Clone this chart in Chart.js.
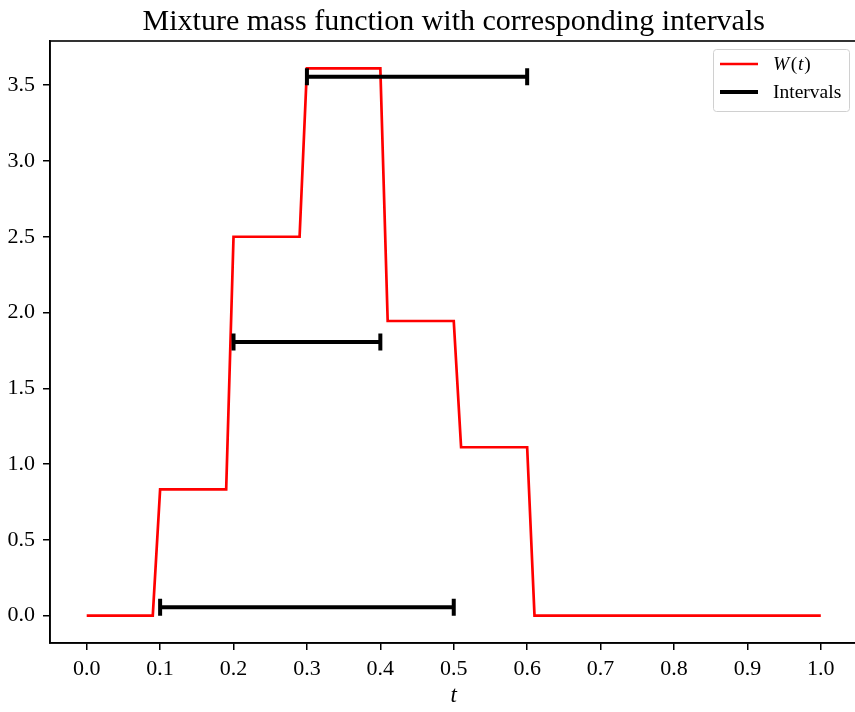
<!DOCTYPE html>
<html>
<head>
<meta charset="utf-8">
<script src="https://cdn.jsdelivr.net/npm/chart.js@4/dist/chart.umd.min.js"></script>
<style>
  html, body { margin: 0; padding: 0; background: #fff; overflow: hidden; width: 855px; height: 712px; }
  #wrap { width: 870px; height: 712px; }
</style>
</head>
<body>
<div id="wrap"><canvas id="c" width="870" height="712"></canvas></div>
<script>
// ---- data ----
const chartTitle = 'Mixture mass function with corresponding intervals';
const tValues = [0.0, 0.09, 0.10, 0.19, 0.20, 0.29, 0.30, 0.40, 0.41, 0.50, 0.51, 0.60, 0.61, 1.0];
const wValues = [0, 0, 0.833, 0.833, 2.5, 2.5, 3.611, 3.611, 1.944, 1.944, 1.111, 1.111, 0, 0];
const intervalStarts = [0.1, 0.2, 0.3];
const intervalEnds = [0.5, 0.4, 0.6];
const intervalHeights = [0.055, 1.805, 3.555];
const xTickValues = [0, 0.1, 0.2, 0.3, 0.4, 0.5, 0.6, 0.7, 0.8, 0.9, 1.0];
const xTickLabels = ['0.0', '0.1', '0.2', '0.3', '0.4', '0.5', '0.6', '0.7', '0.8', '0.9', '1.0'];
const yTickValues = [0, 0.5, 1.0, 1.5, 2.0, 2.5, 3.0, 3.5];
const yTickLabels = ['0.0', '0.5', '1.0', '1.5', '2.0', '2.5', '3.0', '3.5'];
const seriesLabels = ['W(t)', 'Intervals'];

const SERIF = '"Liberation Serif", "DejaVu Serif", serif';

const datasets = [];
datasets.push({
  label: seriesLabels[0],
  data: tValues.map((t, i) => ({ x: t, y: wValues[i] })),
  borderColor: '#ff0000',
  borderWidth: 2.7,
  pointRadius: 0,
  showLine: true,
  tension: 0,
  order: 2
});
intervalStarts.forEach((s, i) => {
  datasets.push({
    label: seriesLabels[1],
    data: [{ x: s, y: intervalHeights[i] }, { x: intervalEnds[i], y: intervalHeights[i] }],
    borderColor: '#000',
    backgroundColor: '#000',
    borderWidth: 4,
    showLine: true,
    pointStyle: 'line',
    pointRotation: 90,
    pointRadius: 8.5,
    pointBorderWidth: 4,
    pointBorderColor: '#000',
    pointHoverRadius: 8.5,
    order: 1
  });
});

const decor = {
  id: 'decor',
  afterDraw(chart) {
    const ctx = chart.ctx;
    const a = chart.chartArea;
    ctx.save();
    // frame
    ctx.strokeStyle = '#000';
    ctx.lineWidth = 1.6;
    ctx.strokeRect(a.left, a.top, a.right - a.left, a.bottom - a.top);
    // title
    ctx.fillStyle = '#000';
    ctx.font = '30px ' + SERIF;
    ctx.textAlign = 'center';
    ctx.textBaseline = 'alphabetic';
    ctx.fillText(chartTitle, (a.left + a.right) / 2, 30);
    // x axis label
    ctx.font = 'italic 23px ' + SERIF;
    ctx.fillText('t', (a.left + a.right) / 2, 702);
    // legend
    const bx = 713, by = 49, bw = 136, bh = 62;
    ctx.fillStyle = 'rgba(255,255,255,0.8)';
    ctx.strokeStyle = '#d0d0d0';
    ctx.lineWidth = 1;
    ctx.beginPath();
    ctx.roundRect(bx + 0.5, by + 0.5, bw, bh, 3);
    ctx.fill();
    ctx.stroke();
    ctx.lineCap = 'butt';
    ctx.strokeStyle = '#ff0000';
    ctx.lineWidth = 2.7;
    ctx.beginPath(); ctx.moveTo(720, 64); ctx.lineTo(758, 64); ctx.stroke();
    ctx.strokeStyle = '#000';
    ctx.lineWidth = 4;
    ctx.beginPath(); ctx.moveTo(720, 92); ctx.lineTo(758, 92); ctx.stroke();
    ctx.fillStyle = '#000';
    ctx.textAlign = 'left';
    ctx.textBaseline = 'alphabetic';
    // W(t) with math-style italics
    let x = 773;
    const parts = [['W', 'italic'], ['(', 'normal'], ['t', 'italic'], [')', 'normal']];
    parts.forEach(([txt, st]) => {
      ctx.font = (st === 'italic' ? 'italic ' : '') + '19.5px ' + SERIF;
      ctx.fillText(txt, x, 70);
      x += ctx.measureText(txt).width + (txt === 'W' ? 1.5 : 0.8);
    });
    ctx.font = '19.5px ' + SERIF;
    ctx.fillText(seriesLabels[1], 773, 98);
    ctx.restore();
  }
};

new Chart(document.getElementById('c'), {
  type: 'scatter',
  data: { datasets },
  options: {
    responsive: false,
    animation: false,
    layout: { padding: { top: 41, right: 11, left: 0, bottom: 0 } },
    plugins: { legend: { display: false }, title: { display: false }, tooltip: { enabled: false } },
    elements: { line: { borderCapStyle: 'butt', borderJoinStyle: 'miter' } },
    scales: {
      x: {
        type: 'linear',
        min: -0.05,
        max: 1.05,
        border: { display: true, color: '#000', width: 1.6 },
        grid: { display: true, drawOnChartArea: false, drawTicks: true, tickLength: 7, color: '#000', lineWidth: 1.5 },
        afterBuildTicks(scale) { scale.ticks = xTickValues.map(v => ({ value: v })); },
        afterFit(scale) { scale.height = 69; },
        ticks: {
          color: '#000',
          padding: 6,
          maxRotation: 0,
          autoSkip: false,
          font: { family: SERIF, size: 22 },
          callback: (v, i) => xTickLabels[i]
        }
      },
      y: {
        type: 'linear',
        min: -0.1806,
        max: 3.7917,
        border: { display: true, color: '#000', width: 1.6 },
        grid: { display: true, drawOnChartArea: false, drawTicks: true, tickLength: 7, color: '#000', lineWidth: 1.5 },
        afterBuildTicks(scale) { scale.ticks = yTickValues.map(v => ({ value: v })); },
        afterFit(scale) { scale.width = 50; },
        ticks: {
          color: '#000',
          padding: 8,
          autoSkip: false,
          font: { family: SERIF, size: 22 },
          callback: (v, i) => yTickLabels[i]
        }
      }
    }
  },
  plugins: [decor]
});
</script>
</body>
</html>
